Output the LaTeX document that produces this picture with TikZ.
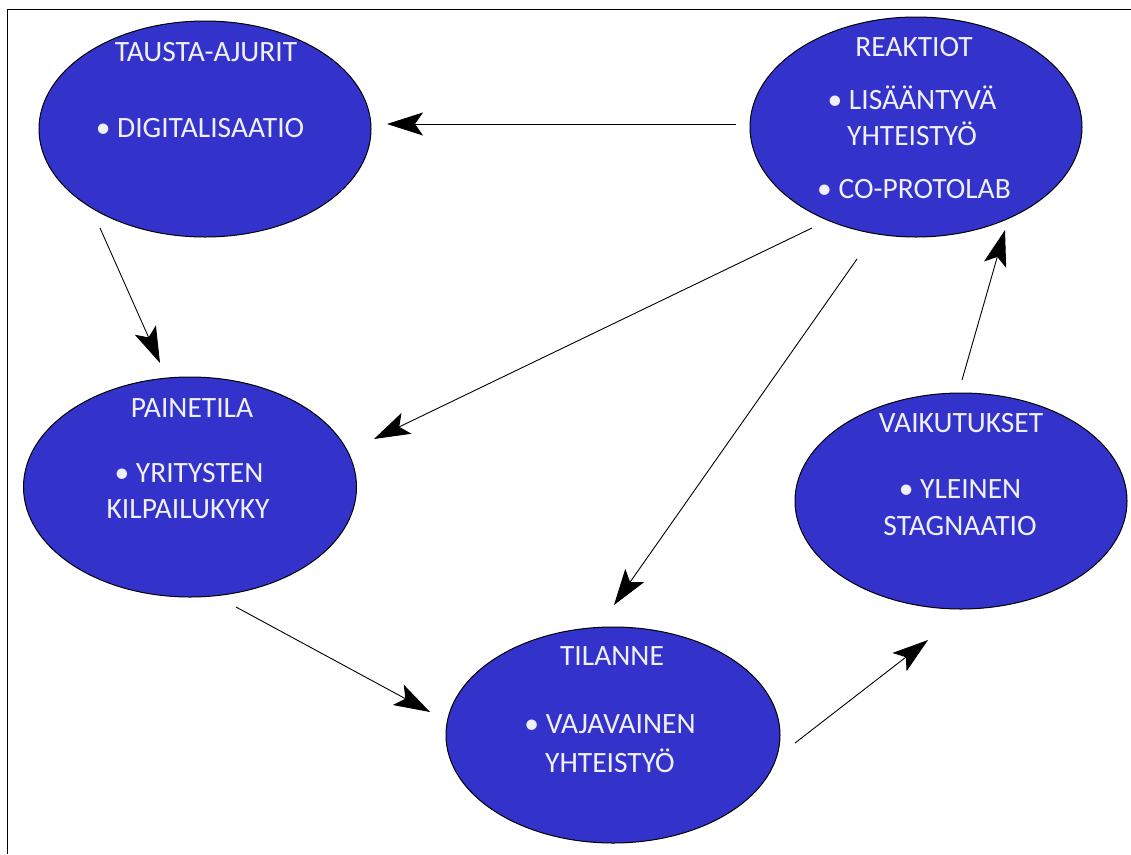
\documentclass[tikz,border=0pt]{standalone}
\usepackage{fontspec}
\setmainfont{Carlito}
\usetikzlibrary{arrows.meta,shapes.geometric}
\definecolor{ovalblue}{RGB}{51,51,204}
\definecolor{ovaltext}{RGB}{240,240,252}
\tikzset{
  oval/.style={ellipse, draw=black, line width=1pt, fill=ovalblue, inner sep=0pt},
  ovaltxt/.style={anchor=base, text=ovaltext, font=\fontsize{29.5}{35}\selectfont, inner sep=0pt},
  arr/.style={draw=black, line width=0.9pt, -{Stealth[length=36pt,width=23pt,inset=8pt]}},
  frame/.style={draw=black, line width=1.5pt}
}
\begin{document}
\begin{tikzpicture}[x=1pt,y=-1pt]
\useasboundingbox (0,0) rectangle (1131,854);
\draw[frame] (7.5,854) -- (7.5,9.5) -- (1131,9.5);

% ovals
\node[oval, minimum width=332pt, minimum height=216pt] (taus) at (205,129) {};
\node[oval, minimum width=332pt, minimum height=220pt] (reak) at (916,127) {};
\node[oval, minimum width=333pt, minimum height=220pt] (pain) at (190,487) {};
\node[oval, minimum width=334pt, minimum height=216pt] (tila) at (613,735) {};
\node[oval, minimum width=332pt, minimum height=216pt] (vaik) at (961,501) {};

% texts
\node[ovaltxt] (t1) at (206,61) {TAUSTA-AJURIT};
\node[ovaltxt] (t2) at (200,137) {• DIGITALISAATIO};
\node[ovaltxt] (r1) at (914,56) {REAKTIOT};
\node[ovaltxt] (r2) at (912,109) {• LISÄÄNTYVÄ};
\node[ovaltxt] (r3) at (912,145) {YHTEISTYÖ};
\node[ovaltxt] (r4) at (914,198) {• CO-PROTOLAB};
\node[ovaltxt] (p1) at (192,417) {PAINETILA};
\node[ovaltxt] (p2) at (189,482) {• YRITYSTEN};
\node[ovaltxt] (p3) at (188,518) {KILPAILUKYKY};
\node[ovaltxt] (l1) at (612,665) {TILANNE};
\node[ovaltxt] (l2) at (610,733) {• VAJAVAINEN};
\node[ovaltxt] (l3) at (610,772) {YHTEISTYÖ};
\node[ovaltxt] (v1) at (961,432) {VAIKUTUKSET};
\node[ovaltxt] (v2) at (960,498) {• YLEINEN};
\node[ovaltxt] (v3) at (960,535) {STAGNAATIO};

% connector end points
\coordinate (a1) at (736,124); \coordinate (a2) at (387,124);
\coordinate (b1) at (100,228); \coordinate (b2) at (160,363);
\coordinate (c1) at (812,228); \coordinate (c2) at (374,439);
\coordinate (d1) at (857,259); \coordinate (d2) at (614,605);
\coordinate (e1) at (236,607); \coordinate (e2) at (430,712);
\coordinate (f1) at (795,743); \coordinate (f2) at (928,640);
\coordinate (g1) at (962,380); \coordinate (g2) at (1005,230);

\draw[arr] (a1) -- (a2);
\draw[arr] (b1) -- (b2);
\draw[arr] (c1) -- (c2);
\draw[arr] (d1) -- (d2);
\draw[arr] (e1) -- (e2);
\draw[arr] (f1) -- (f2);
\draw[arr] (g1) -- (g2);
\end{tikzpicture}
\end{document}
